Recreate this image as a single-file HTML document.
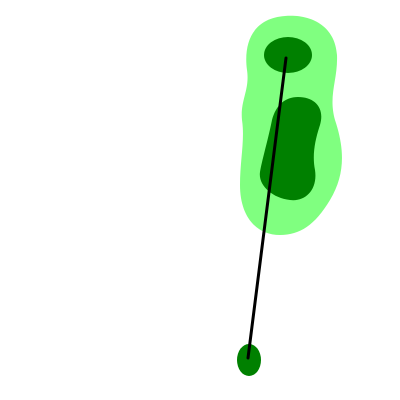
<!DOCTYPE html>
<html>
<head>
<meta charset="utf-8">
<style>
  html, body { margin: 0; padding: 0; background: #ffffff; }
  svg { display: block; }
</style>
</head>
<body>
<svg id="hole" width="400" height="400" viewBox="0 0 400 400" xmlns="http://www.w3.org/2000/svg">
  <path fill="#80ff80"
    d="M 285 16 C 310 14, 335 25, 337 55 C 338 80, 328 95, 335 120 C 345 150, 345 175, 330 200 C 315 225, 300 235, 280 235 C 255 235, 240 215, 240 185 C 240 160, 245 140, 242 120 C 240 100, 250 90, 247 70 C 243 40, 255 18, 285 16 Z"/>
  <ellipse cx="288" cy="55" rx="24" ry="18" fill="#008000"/>
  <path fill="#008000"
    d="M 298 97 C 315 97, 325 108, 320 125 C 315 140, 312 155, 315 170 C 318 190, 305 202, 290 200 C 272 198, 258 185, 260 172 C 262 160, 268 140, 272 120 C 276 105, 285 97, 298 97 Z"/>
  <ellipse cx="249" cy="360" rx="12" ry="16" fill="#008000"/>
  <g id="shots"></g>
</svg>
<script>
const shotX = [248, 286];
const shotY = [358, 58];
const g = document.getElementById('shots');
const ns = 'http://www.w3.org/2000/svg';
for (let i = 0; i < shotX.length - 1; i++) {
  const l = document.createElementNS(ns, 'line');
  l.setAttribute('x1', shotX[i]);
  l.setAttribute('y1', shotY[i]);
  l.setAttribute('x2', shotX[i + 1]);
  l.setAttribute('y2', shotY[i + 1]);
  l.setAttribute('stroke', '#000');
  l.setAttribute('stroke-width', '3');
  l.setAttribute('stroke-linecap', 'round');
  
  
  g.appendChild(l);
}
</script>
</body>
</html>
